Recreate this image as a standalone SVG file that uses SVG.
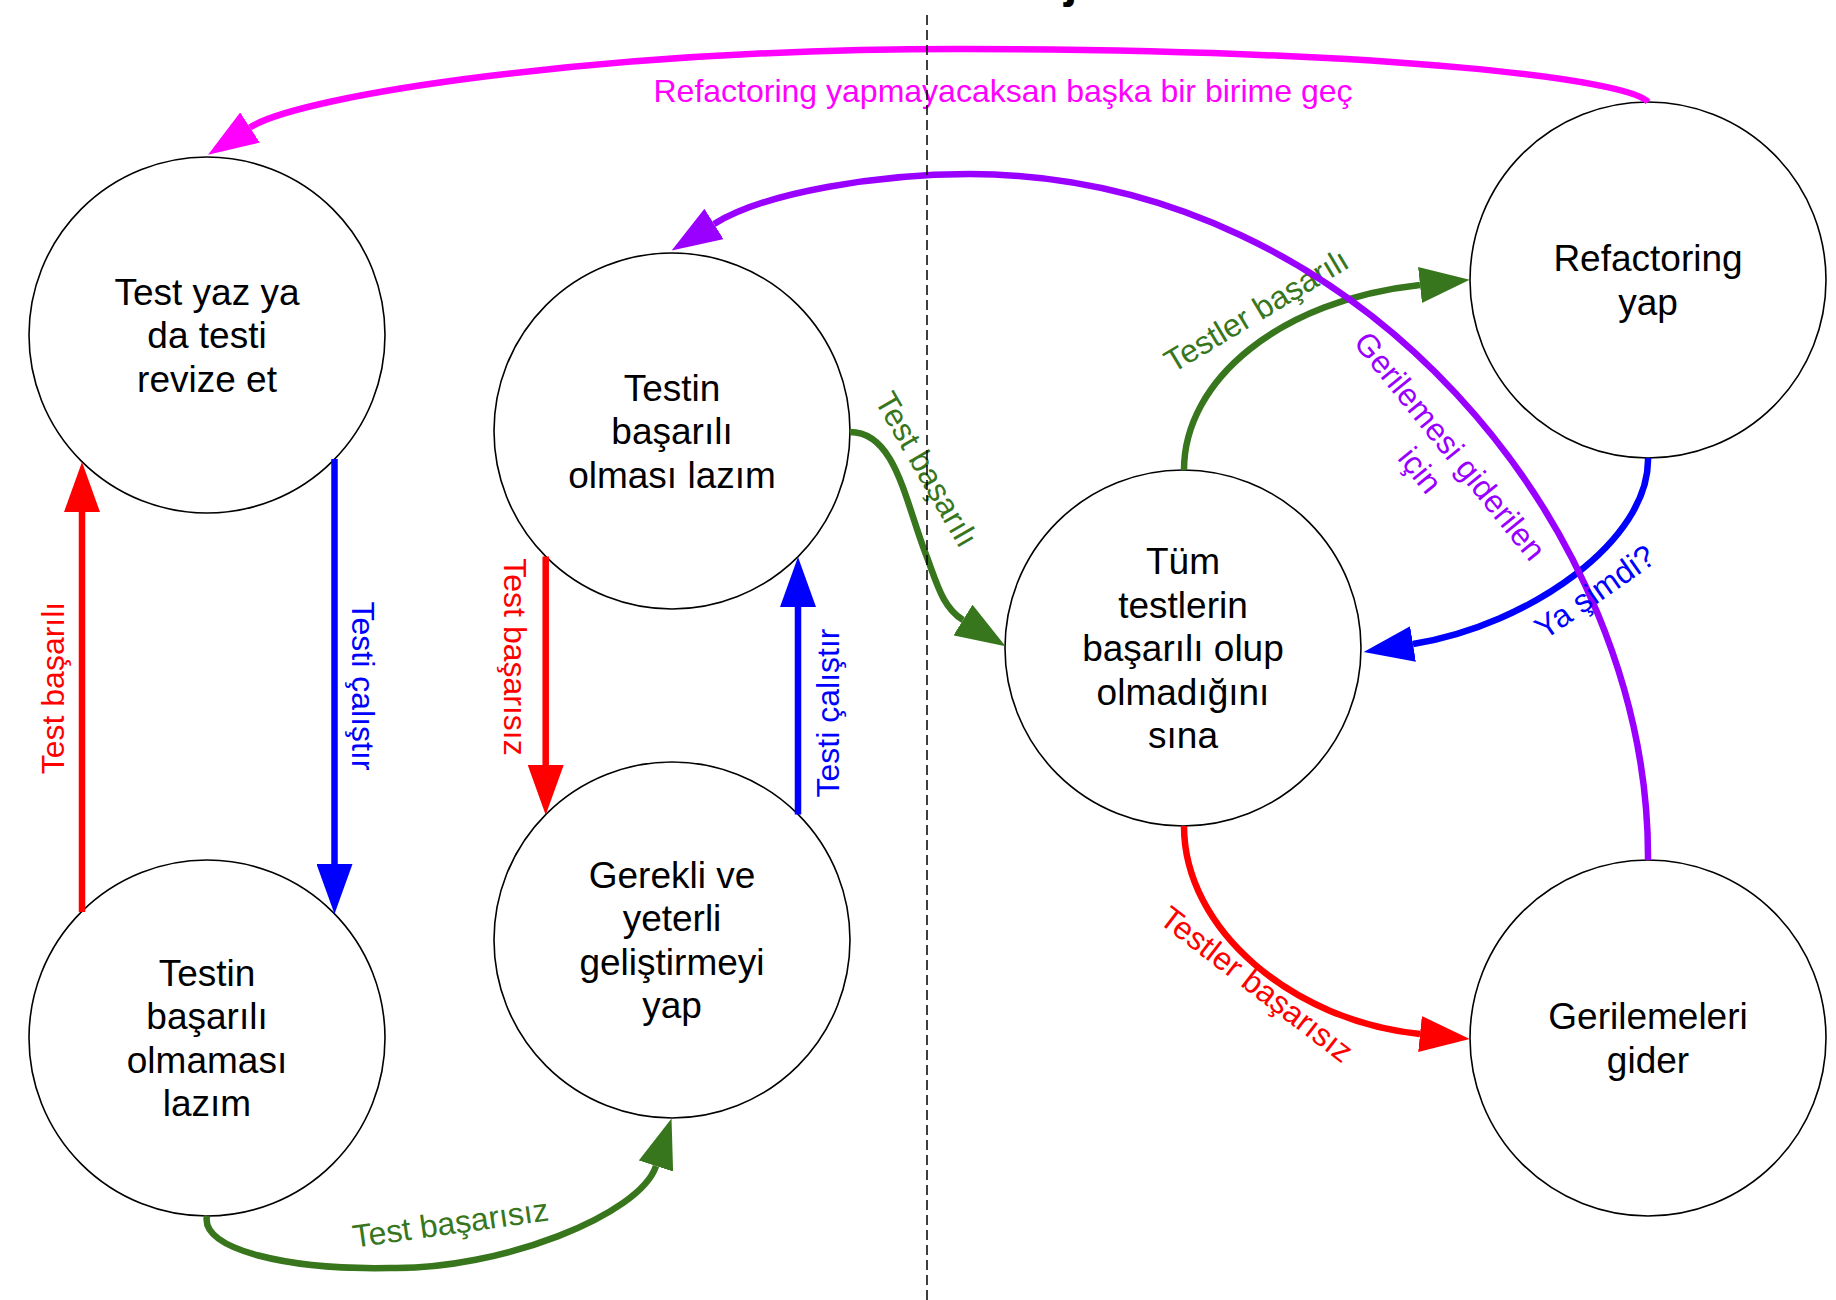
<svg xmlns="http://www.w3.org/2000/svg" width="1836" height="1300" viewBox="0 0 1836 1300">
<style>
.node circle{fill:#fff;stroke:#000;stroke-width:1.6}
.node text{font-family:"Liberation Sans",Arial,sans-serif;font-size:37px;fill:#000;text-anchor:middle}
.edge{fill:none;stroke-width:6.5;stroke-linecap:butt}
.lbl{font-family:"Liberation Sans",Arial,sans-serif;font-size:32px;text-anchor:middle}
.red{stroke:#FF0000}.blue{stroke:#0000FF}.green{stroke:#38761D}.purple{stroke:#9900FF}.magenta{stroke:#FF00FF}
</style>
<defs>
<marker id="ah-red" markerUnits="userSpaceOnUse" markerWidth="50" markerHeight="36" viewBox="0 0 50 36" refX="0" refY="18" orient="auto"><path d="M0,0 L50,18 L0,36 z" fill="#FF0000"/></marker>
<marker id="ah-blue" markerUnits="userSpaceOnUse" markerWidth="50" markerHeight="36" viewBox="0 0 50 36" refX="0" refY="18" orient="auto"><path d="M0,0 L50,18 L0,36 z" fill="#0000FF"/></marker>
<marker id="ah-green" markerUnits="userSpaceOnUse" markerWidth="50" markerHeight="36" viewBox="0 0 50 36" refX="0" refY="18" orient="auto"><path d="M0,0 L50,18 L0,36 z" fill="#38761D"/></marker>
<marker id="ah-purple" markerUnits="userSpaceOnUse" markerWidth="50" markerHeight="36" viewBox="0 0 50 36" refX="0" refY="18" orient="auto"><path d="M0,0 L50,18 L0,36 z" fill="#9900FF"/></marker>
<marker id="ah-magenta" markerUnits="userSpaceOnUse" markerWidth="50" markerHeight="36" viewBox="0 0 50 36" refX="0" refY="18" orient="auto"><path d="M0,0 L50,18 L0,36 z" fill="#FF00FF"/></marker>
</defs>
<rect width="1836" height="1300" fill="#fff"/>
<text x="1064" y="-3" font-family="Liberation Sans,Arial,sans-serif" font-size="48" font-weight="bold" fill="#000">j</text>

<g id="nodes">
<g id="node-test-yaz" class="node"><circle cx="207" cy="335" r="178"/><text><tspan x="207" y="304.5">Test yaz ya</tspan><tspan x="207" y="348">da testi</tspan><tspan x="207" y="391.5">revize et</tspan></text></g>
<g id="node-basarili-olmamasi" class="node"><circle cx="207" cy="1038" r="178"/><text><tspan x="207" y="985.5">Testin</tspan><tspan x="207" y="1029">başarılı</tspan><tspan x="207" y="1072.5">olmaması</tspan><tspan x="207" y="1116">lazım</tspan></text></g>
<g id="node-basarili-olmasi" class="node"><circle cx="672" cy="431" r="178"/><text><tspan x="672" y="400.5">Testin</tspan><tspan x="672" y="444">başarılı</tspan><tspan x="672" y="487.5">olması lazım</tspan></text></g>
<g id="node-gelistirme" class="node"><circle cx="672" cy="940" r="178"/><text><tspan x="672" y="887.5">Gerekli ve</tspan><tspan x="672" y="931">yeterli</tspan><tspan x="672" y="974.5">geliştirmeyi</tspan><tspan x="672" y="1018">yap</tspan></text></g>
<g id="node-tum-testler" class="node"><circle cx="1183" cy="648" r="178"/><text><tspan x="1183" y="574">Tüm</tspan><tspan x="1183" y="617.5">testlerin</tspan><tspan x="1183" y="661">başarılı olup</tspan><tspan x="1183" y="704.5">olmadığını</tspan><tspan x="1183" y="748">sına</tspan></text></g>
<g id="node-refactoring" class="node"><circle cx="1648" cy="280" r="178"/><text><tspan x="1648" y="271">Refactoring</tspan><tspan x="1648" y="314.5">yap</tspan></text></g>
<g id="node-gerilemeler" class="node"><circle cx="1648" cy="1038" r="178"/><text><tspan x="1648" y="1029">Gerilemeleri</tspan><tspan x="1648" y="1072.5">gider</tspan></text></g>
</g>

<g id="connectors">
<g id="e1"><path class="edge red" d="M82,912 L82,512" marker-end="url(#ah-red)"/>
<text class="lbl" fill="#FF0000" transform="translate(64,688) rotate(-90)">Test başarılı</text></g>
<g id="e2"><path class="edge blue" d="M334.5,459 L334.5,864" marker-end="url(#ah-blue)"/>
<text class="lbl" fill="#0000FF" transform="translate(352,686) rotate(90)">Testi çalıştır</text></g>
<g id="e3"><path class="edge red" d="M545.7,556.5 L545.7,765" marker-end="url(#ah-red)"/>
<text class="lbl" fill="#FF0000" transform="translate(504,657) rotate(90)">Test başarısız</text></g>
<g id="e4"><path class="edge blue" d="M798,814.5 L798,607" marker-end="url(#ah-blue)"/>
<text class="lbl" fill="#0000FF" transform="translate(839,713) rotate(-90)">Testi çalıştır</text></g>
<g id="e5"><path class="edge green" d="M207,1216 C200,1250 290,1270 390,1268 C500,1270 640,1215 656,1166" marker-end="url(#ah-green)"/>
<text class="lbl" fill="#38761D" transform="translate(452,1234) rotate(-8)">Test başarısız</text></g>
<g id="e6"><path class="edge green" d="M850,432 C895,432 905,500 925,552 C937,583 942,607 963,620" marker-end="url(#ah-green)"/>
<text class="lbl" fill="#38761D" transform="translate(917,475) rotate(60)">Test başarılı</text></g>
<g id="e7"><path class="edge green" d="M1184,470 C1184,380 1280,300 1420,285" marker-end="url(#ah-green)"/>
<text class="lbl" fill="#38761D" transform="translate(1262,320) rotate(-31)">Testler başarılı</text></g>
<g id="e8"><path class="edge blue" d="M1648,458 C1650,540 1530,625 1413,644" marker-end="url(#ah-blue)"/></g>
<g id="e9"><path class="edge red" d="M1184,826 C1184,930 1293,1021 1420,1034" marker-end="url(#ah-red)"/>
<text class="lbl" fill="#FF0000" transform="translate(1250,993) rotate(37.5)">Testler başarısız</text></g>
<g id="e10"><path class="edge purple" d="M1648,860 C1650,530 1360,175 970,174 C880,174 765,192 714,224" marker-end="url(#ah-purple)"/>
<text class="lbl" fill="#9900FF" transform="translate(1441.5,453) rotate(51)"><tspan x="0" y="0">Gerilemesi giderilen</tspan><tspan x="0" y="38.4">için</tspan></text></g>
<g id="e8-label"><text class="lbl" fill="#0000FF" transform="translate(1601,601) rotate(-35)">Ya şimdi?</text></g>
<g id="e11"><path class="edge magenta" d="M1648,102 C1630,80 1400,50 960,49 C600,49 300,95 250,127.5" marker-end="url(#ah-magenta)"/>
<text class="lbl" fill="#FF00FF" x="1003" y="102">Refactoring yapmayacaksan başka bir birime geç</text></g>
</g>
<line id="divider" x1="927" y1="15" x2="927" y2="1300" stroke="#000" stroke-width="1.5" stroke-dasharray="10,5"/>
</svg>
